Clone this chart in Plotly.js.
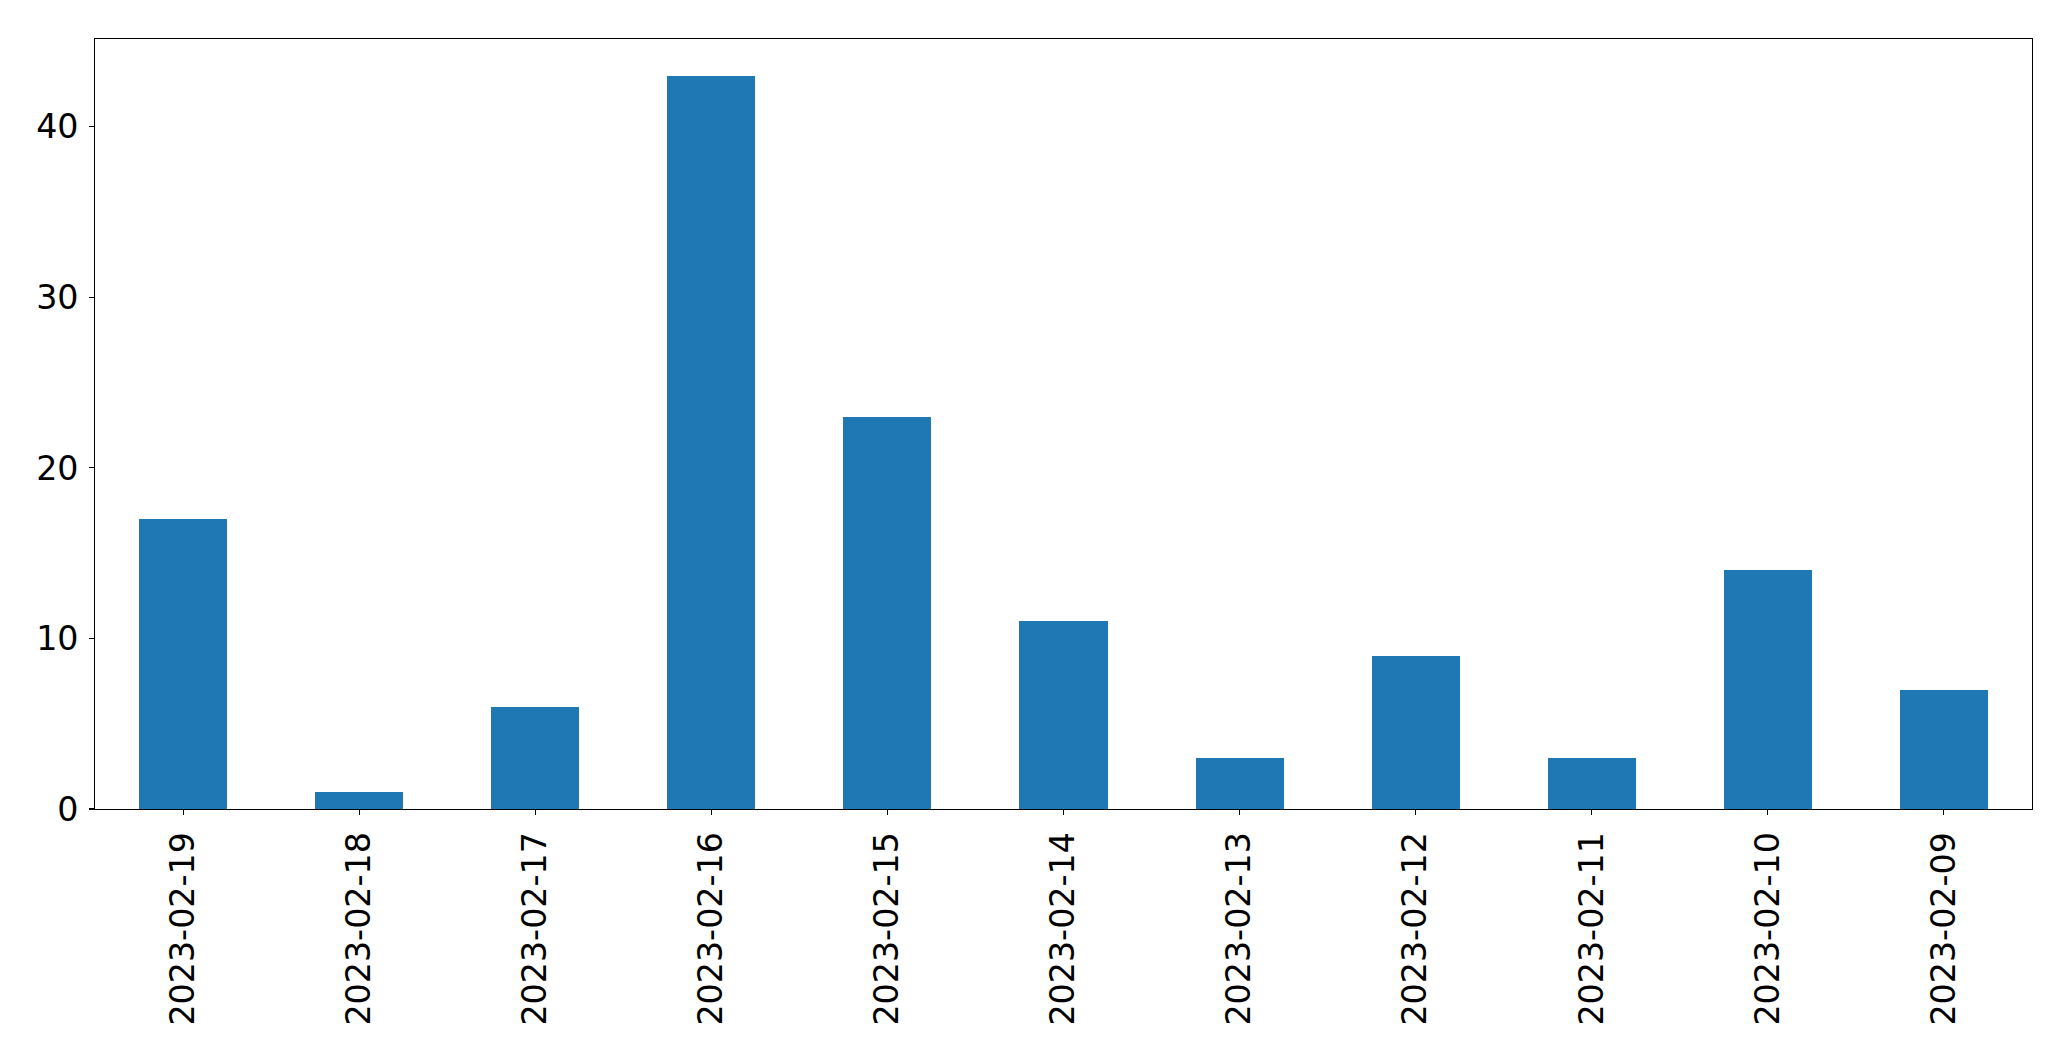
<!DOCTYPE html>
<html>
<head>
<meta charset="utf-8">
<script src="https://cdn.plot.ly/plotly-3.0.1.min.js"></script>
<style>html,body{margin:0;padding:0;background:#fff;}#chart{width:2071px;height:1061px;}</style>
</head>
<body>
<div id="chart"></div>
<script>
const categories = ["2023-02-19","2023-02-18","2023-02-17","2023-02-16","2023-02-15","2023-02-14","2023-02-13","2023-02-12","2023-02-11","2023-02-10","2023-02-09"];
const values = [17, 1, 6, 43, 23, 11, 3, 9, 3, 14, 7];
const yTicks = [0, 10, 20, 30, 40];

const trace = {
  type: 'bar',
  x: categories,
  y: values,
  width: 0.5,
  marker: {color: '#1f77b4', line: {width: 0}},
  hoverinfo: 'x+y'
};

const axisCommon = {
  showgrid: false,
  zeroline: false,
  showline: true,
  mirror: true,
  linecolor: '#000',
  linewidth: 1.1,
  ticks: 'outside',
  ticklen: 4.7,
  tickwidth: 1.1,
  tickcolor: '#000',
  tickfont: {family: 'DejaVu Sans', size: 33.3, color: '#000'}
};

const layout = {
  width: 2071,
  height: 1061,
  paper_bgcolor: '#fff',
  plot_bgcolor: '#fff',
  margin: {l: 94.5, r: 39.3, t: 39.3, b: 251.7, pad: 0},
  showlegend: false,
  bargap: 0,
  xaxis: Object.assign({}, axisCommon, {
    type: 'category',
    range: [-0.5, 10.5],
    tickangle: -90,
    ticklabelstandoff: 4
  }),
  yaxis: Object.assign({}, axisCommon, {
    range: [0, 45.15],
    tickvals: yTicks,
    ticktext: yTicks.map(String),
    ticklabelstandoff: 4
  })
};

Plotly.newPlot('chart', [trace], layout, {displayModeBar: false, staticPlot: true});
</script>
</body>
</html>
